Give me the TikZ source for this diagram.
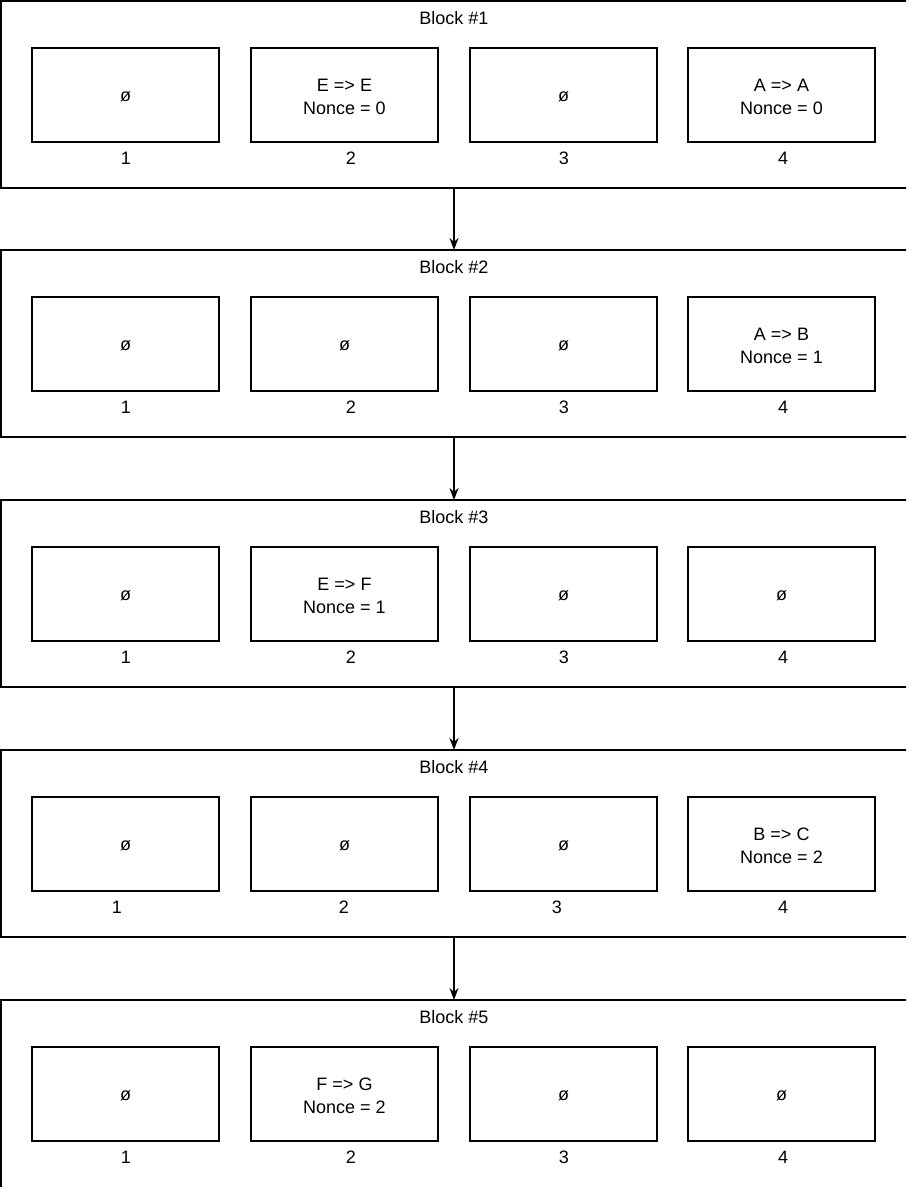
\documentclass[tikz,border=0pt]{standalone}
\usepackage{fontspec}
\setmainfont{Liberation Sans}
\usetikzlibrary{arrows.meta}
\begin{document}
\begin{tikzpicture}[x=1pt,y=-1pt,
  every node/.style={font=\fontsize{18}{23}\selectfont, inner sep=0pt, outer sep=0pt},
  blockbox/.style={draw, line width=1.5pt, minimum width=908pt, anchor=north west},
  cellbox/.style={draw, line width=1.5pt, minimum width=187pt, minimum height=94pt, anchor=north west},
  celltext/.style={align=center, yshift=-2pt},
  flow/.style={line width=1.5pt, -{Stealth[length=12pt,width=9pt]}}]
\useasboundingbox (0,0) rectangle (906,1187);
\clip (0,0) rectangle (906,1187);
\foreach \k/\top/\h/\ca/\cb/\cc/\cd/\la/\lb/\lc/\ld in {
  1/1/187/ø/{E => E\\Nonce = 0}/ø/{A => A\\Nonce = 0}/126/351/564/783,
  2/250/187/ø/ø/ø/{A => B\\Nonce = 1}/126/351/564/783,
  3/500/187/ø/{E => F\\Nonce = 1}/ø/ø/126/351/564/783,
  4/750/187/ø/ø/ø/{B => C\\Nonce = 2}/117/344/557/783,
  5/1000/200/ø/{F => G\\Nonce = 2}/ø/ø/126/351/564/783}{
  \node[blockbox, minimum height=\h pt] (b\k) at (1,\top) {};
  \node (t\k) at (454,\top+17) {Block \#\k};
  \node[cellbox, label={[celltext]center:\ca}] (b\k c1) at (32,\top+47) {};
  \node[cellbox, label={[celltext]center:\cb}] (b\k c2) at (251,\top+47) {};
  \node[cellbox, label={[celltext]center:\cc}] (b\k c3) at (470,\top+47) {};
  \node[cellbox, label={[celltext]center:\cd}] (b\k c4) at (688,\top+47) {};
  \node (b\k l1) at (\la,\top+157) {1};
  \node (b\k l2) at (\lb,\top+157) {2};
  \node (b\k l3) at (\lc,\top+157) {3};
  \node (b\k l4) at (\ld,\top+157) {4};
}
\foreach \a/\b in {1/2,2/3,3/4,4/5}{
  \draw[flow] (b\a.south -| t\a) -- (b\b.north -| t\b);
}
\end{tikzpicture}
\end{document}
